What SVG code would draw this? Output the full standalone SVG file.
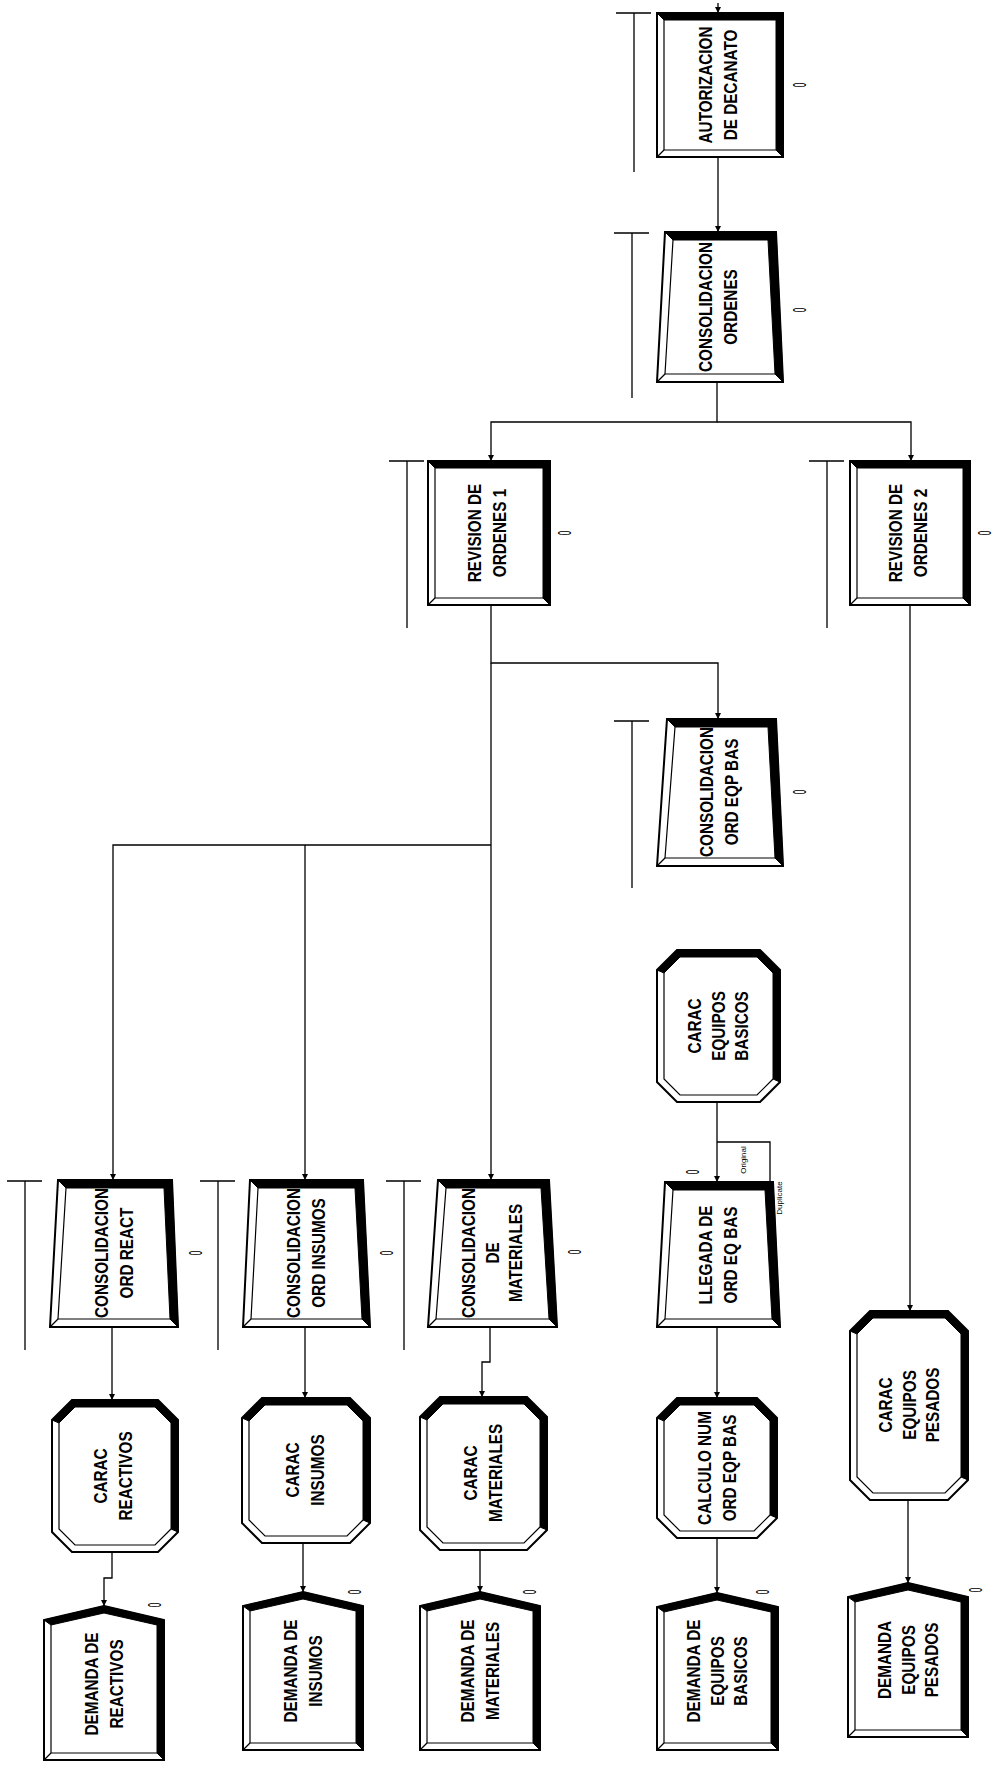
<svg xmlns="http://www.w3.org/2000/svg" width="995" height="1766" viewBox="0 0 995 1766">
<style>
.conn{fill:none;stroke:#000;stroke-width:1.3}
.q{fill:none;stroke:#000;stroke-width:1.3}
.outer{fill:#fff;stroke:#000;stroke-width:2}
.band{fill:#000;stroke:#000;stroke-width:1}
.inner{fill:none;stroke:#000;stroke-width:1.2}
.lbl{font-family:"Liberation Sans",Arial,sans-serif;font-size:18px;font-weight:bold;text-anchor:middle;fill:#000}
.zero{font-family:"Liberation Sans",Arial,sans-serif;font-size:18px;text-anchor:middle;fill:#000}
.small{font-family:"Liberation Sans",Arial,sans-serif;font-size:8px;text-anchor:middle;fill:#000}
</style>
<defs>
<marker id="arr" markerWidth="6" markerHeight="6" refX="6" refY="3" orient="auto" markerUnits="userSpaceOnUse"><path d="M0,0 L6,3 L0,6 z" fill="#000"/></marker>
</defs>
<rect width="995" height="1766" fill="#fff"/>

<g id="connectors">
<path class="conn" d="M718,3 V13" marker-end="url(#arr)"/>
<path class="conn" d="M718,157 V232" marker-end="url(#arr)"/>
<path class="conn" d="M717,382 V422 H491 V461" marker-end="url(#arr)"/>
<path class="conn" d="M717,422 H911 V461" marker-end="url(#arr)"/>
<path class="conn" d="M491,605 V663 H718 V719" marker-end="url(#arr)"/>
<path class="conn" d="M491,663 V1180" marker-end="url(#arr)"/>
<path class="conn" d="M491,845 H113 V1180" marker-end="url(#arr)"/>
<path class="conn" d="M305,845 V1180" marker-end="url(#arr)"/>
<path class="conn" d="M910,605 V1311" marker-end="url(#arr)"/>
<path class="conn" d="M717,1102 V1182" marker-end="url(#arr)"/>
<path class="conn" d="M717,1142 H770 V1182"/>
<path class="conn" d="M717,1327 V1398" marker-end="url(#arr)"/>
<path class="conn" d="M717,1538 V1593" marker-end="url(#arr)"/>
<path class="conn" d="M112,1327 V1400" marker-end="url(#arr)"/>
<path class="conn" d="M112,1552 V1578 H104 V1606" marker-end="url(#arr)"/>
<path class="conn" d="M305,1327 V1398" marker-end="url(#arr)"/>
<path class="conn" d="M303,1543 V1592" marker-end="url(#arr)"/>
<path class="conn" d="M490,1327 V1362 H482 V1397" marker-end="url(#arr)"/>
<path class="conn" d="M480,1550 V1592" marker-end="url(#arr)"/>
<path class="conn" d="M908,1500 V1583" marker-end="url(#arr)"/>
<text class="small" transform="translate(746,1160) rotate(-90)">Original</text>
<text class="small" transform="translate(782,1198) rotate(-90)">Duplicate</text>
</g>

<g id="n-autorizacion">
<path class="q" d="M616,13 H651 M634,13 V172"/>
<rect class="outer" x="657" y="13" width="126" height="144"/>
<polygon class="band" points="657,13 783,13 783,157 776,150 776,20 664,20"/>
<polyline class="inner" points="664,20 664,150 776,150"/>
<line class="inner" x1="657" y1="157" x2="664" y2="150"/>
<text class="lbl" transform="translate(718,85) rotate(-90) scale(0.85,1)"><tspan x="0" y="-6">AUTORIZACION</tspan><tspan x="0" y="19">DE DECANATO</tspan></text>
<text class="zero" transform="translate(800,85) rotate(-90) scale(0.45,1)" y="6">0</text>
</g>

<g id="n-consolidacion-ordenes">
<path class="q" d="M614,233 H649 M632,233 V398"/>
<polygon class="outer" points="665,232 776,232 783,382 657,382"/>
<polygon class="band" points="665,232 776,232 783,382 775,374 768,240 673,240"/>
<polyline class="inner" points="673,240 665,374 775,374"/>
<line class="inner" x1="657" y1="382" x2="665" y2="374"/>
<text class="lbl" transform="translate(718,307) rotate(-90) scale(0.85,1)"><tspan x="0" y="-6">CONSOLIDACION</tspan><tspan x="0" y="19">ORDENES</tspan></text>
<text class="zero" transform="translate(800,310) rotate(-90) scale(0.45,1)" y="6">0</text>
</g>

<g id="n-revision-1">
<path class="q" d="M389,461 H424 M407,461 V628"/>
<rect class="outer" x="428" y="461" width="122" height="144"/>
<polygon class="band" points="428,461 550,461 550,605 543,598 543,468 435,468"/>
<polyline class="inner" points="435,468 435,598 543,598"/>
<line class="inner" x1="428" y1="605" x2="435" y2="598"/>
<text class="lbl" transform="translate(487,533) rotate(-90) scale(0.85,1)"><tspan x="0" y="-6">REVISION DE</tspan><tspan x="0" y="19">ORDENES 1</tspan></text>
<text class="zero" transform="translate(565,533) rotate(-90) scale(0.45,1)" y="6">0</text>
</g>

<g id="n-revision-2">
<path class="q" d="M809,461 H844 M827,461 V628"/>
<rect class="outer" x="850" y="461" width="120" height="144"/>
<polygon class="band" points="850,461 970,461 970,605 963,598 963,468 857,468"/>
<polyline class="inner" points="857,468 857,598 963,598"/>
<line class="inner" x1="850" y1="605" x2="857" y2="598"/>
<text class="lbl" transform="translate(908,533) rotate(-90) scale(0.85,1)"><tspan x="0" y="-6">REVISION DE</tspan><tspan x="0" y="19">ORDENES 2</tspan></text>
<text class="zero" transform="translate(985,533) rotate(-90) scale(0.45,1)" y="6">0</text>
</g>

<g id="n-consolidacion-eqp-bas">
<path class="q" d="M614,721 H649 M632,721 V888"/>
<polygon class="outer" points="667,719 776,719 783,866 657,866"/>
<polygon class="band" points="667,719 776,719 783,866 775,858 768,727 675,727"/>
<polyline class="inner" points="675,727 665,858 775,858"/>
<line class="inner" x1="657" y1="866" x2="665" y2="858"/>
<text class="lbl" transform="translate(719,792) rotate(-90) scale(0.85,1)"><tspan x="0" y="-6">CONSOLIDACION</tspan><tspan x="0" y="19">ORD EQP BAS</tspan></text>
<text class="zero" transform="translate(800,792) rotate(-90) scale(0.45,1)" y="6">0</text>
</g>

<g id="n-carac-eq-basicos">
<polygon class="outer" points="677,950 760,950 780,970 780,1082 760,1102 677,1102 657,1082 657,970"/>
<polygon class="band" points="657,970 677,950 760,950 780,970 780,1082 773,1079 773,973 757,957 680,957 664,973"/>
<polyline class="inner" points="664,973 664,1079 680,1095 757,1095 773,1079"/>
<text class="lbl" transform="translate(718,1026) rotate(-90) scale(0.85,1)"><tspan x="0" y="-17.5">CARAC</tspan><tspan x="0" y="6.5">EQUIPOS</tspan><tspan x="0" y="30.5">BASICOS</tspan></text>
</g>

<g id="n-llegada">
<polygon class="outer" points="665,1182 773,1182 780,1327 657,1327"/>
<polygon class="band" points="665,1182 773,1182 780,1327 772,1319 765,1190 673,1190"/>
<polyline class="inner" points="673,1190 665,1319 772,1319"/>
<line class="inner" x1="657" y1="1327" x2="665" y2="1319"/>
<text class="lbl" transform="translate(718,1255) rotate(-90) scale(0.85,1)"><tspan x="0" y="-6">LLEGADA DE</tspan><tspan x="0" y="19">ORD EQ BAS</tspan></text>
<text class="zero" transform="translate(693,1172) rotate(-90) scale(0.45,1)" y="6">0</text>
</g>

<g id="n-calculo-num">
<polygon class="outer" points="677,1398 757,1398 777,1418 777,1518 757,1538 677,1538 657,1518 657,1418"/>
<polygon class="band" points="657,1418 677,1398 757,1398 777,1418 777,1518 770,1515 770,1421 754,1405 680,1405 664,1421"/>
<polyline class="inner" points="664,1421 664,1515 680,1531 754,1531 770,1515"/>
<text class="lbl" transform="translate(717,1468) rotate(-90) scale(0.85,1)"><tspan x="0" y="-6">CALCULO NUM</tspan><tspan x="0" y="19">ORD EQP BAS</tspan></text>
</g>

<g id="n-demanda-eq-basicos">
<polygon class="outer" points="717,1593 778,1607 778,1750 657,1750 657,1607"/>
<polygon class="band" points="657,1607 717,1593 778,1607 778,1750 771,1743 771,1612 717,1600 664,1612"/>
<polyline class="inner" points="664,1612 664,1743 771,1743"/>
<line class="inner" x1="657" y1="1750" x2="664" y2="1743"/>
<text class="lbl" transform="translate(717,1671) rotate(-90) scale(0.85,1)"><tspan x="0" y="-17.5">DEMANDA DE</tspan><tspan x="0" y="6.5">EQUIPOS</tspan><tspan x="0" y="30.5">BASICOS</tspan></text>
<text class="zero" transform="translate(763,1592) rotate(-90) scale(0.45,1)" y="6">0</text>
</g>

<g id="n-consolidacion-react">
<path class="q" d="M7,1181 H42 M25,1181 V1350"/>
<polygon class="outer" points="58,1180 172,1180 178,1327 50,1327"/>
<polygon class="band" points="58,1180 172,1180 178,1327 170,1319 164,1188 66,1188"/>
<polyline class="inner" points="66,1188 58,1319 170,1319"/>
<line class="inner" x1="50" y1="1327" x2="58" y2="1319"/>
<text class="lbl" transform="translate(114,1253) rotate(-90) scale(0.85,1)"><tspan x="0" y="-6">CONSOLIDACION</tspan><tspan x="0" y="19">ORD REACT</tspan></text>
<text class="zero" transform="translate(196,1253) rotate(-90) scale(0.45,1)" y="6">0</text>
</g>

<g id="n-carac-reactivos">
<polygon class="outer" points="72,1400 158,1400 178,1420 178,1532 158,1552 72,1552 52,1532 52,1420"/>
<polygon class="band" points="52,1420 72,1400 158,1400 178,1420 178,1532 171,1529 171,1423 155,1407 75,1407 59,1423"/>
<polyline class="inner" points="59,1423 59,1529 75,1545 155,1545 171,1529"/>
<text class="lbl" transform="translate(113,1476) rotate(-90) scale(0.85,1)"><tspan x="0" y="-6">CARAC</tspan><tspan x="0" y="19">REACTIVOS</tspan></text>
</g>

<g id="n-demanda-reactivos">
<polygon class="outer" points="104,1606 164,1620 164,1760 44,1760 44,1620"/>
<polygon class="band" points="44,1620 104,1606 164,1620 164,1760 157,1753 157,1625 104,1613 51,1625"/>
<polyline class="inner" points="51,1625 51,1753 157,1753"/>
<line class="inner" x1="44" y1="1760" x2="51" y2="1753"/>
<text class="lbl" transform="translate(104,1684) rotate(-90) scale(0.85,1)"><tspan x="0" y="-6">DEMANDA DE</tspan><tspan x="0" y="19">REACTIVOS</tspan></text>
<text class="zero" transform="translate(155,1605) rotate(-90) scale(0.45,1)" y="6">0</text>
</g>

<g id="n-consolidacion-insumos">
<path class="q" d="M200,1181 H235 M218,1181 V1350"/>
<polygon class="outer" points="250,1180 363,1180 370,1327 243,1327"/>
<polygon class="band" points="250,1180 363,1180 370,1327 362,1319 355,1188 258,1188"/>
<polyline class="inner" points="258,1188 251,1319 362,1319"/>
<line class="inner" x1="243" y1="1327" x2="251" y2="1319"/>
<text class="lbl" transform="translate(306,1253) rotate(-90) scale(0.85,1)"><tspan x="0" y="-6">CONSOLIDACION</tspan><tspan x="0" y="19">ORD INSUMOS</tspan></text>
<text class="zero" transform="translate(387,1253) rotate(-90) scale(0.45,1)" y="6">0</text>
</g>

<g id="n-carac-insumos">
<polygon class="outer" points="262,1398 350,1398 370,1418 370,1523 350,1543 262,1543 242,1523 242,1418"/>
<polygon class="band" points="242,1418 262,1398 350,1398 370,1418 370,1523 363,1520 363,1421 347,1405 265,1405 249,1421"/>
<polyline class="inner" points="249,1421 249,1520 265,1536 347,1536 363,1520"/>
<text class="lbl" transform="translate(305,1470) rotate(-90) scale(0.85,1)"><tspan x="0" y="-6">CARAC</tspan><tspan x="0" y="19">INSUMOS</tspan></text>
</g>

<g id="n-demanda-insumos">
<polygon class="outer" points="303,1592 363,1606 363,1750 243,1750 243,1606"/>
<polygon class="band" points="243,1606 303,1592 363,1606 363,1750 356,1743 356,1611 303,1599 250,1611"/>
<polyline class="inner" points="250,1611 250,1743 356,1743"/>
<line class="inner" x1="243" y1="1750" x2="250" y2="1743"/>
<text class="lbl" transform="translate(303,1671) rotate(-90) scale(0.85,1)"><tspan x="0" y="-6">DEMANDA DE</tspan><tspan x="0" y="19">INSUMOS</tspan></text>
<text class="zero" transform="translate(355,1592) rotate(-90) scale(0.45,1)" y="6">0</text>
</g>

<g id="n-consolidacion-materiales">
<path class="q" d="M386,1181 H421 M404,1181 V1350"/>
<polygon class="outer" points="438,1180 549,1180 557,1327 428,1327"/>
<polygon class="band" points="438,1180 549,1180 557,1327 549,1319 541,1188 446,1188"/>
<polyline class="inner" points="446,1188 436,1319 549,1319"/>
<line class="inner" x1="428" y1="1327" x2="436" y2="1319"/>
<text class="lbl" transform="translate(492,1253) rotate(-90) scale(0.85,1)"><tspan x="0" y="-17.5">CONSOLIDACION</tspan><tspan x="0" y="6.5">DE</tspan><tspan x="0" y="30.5">MATERIALES</tspan></text>
<text class="zero" transform="translate(575,1252) rotate(-90) scale(0.45,1)" y="6">0</text>
</g>

<g id="n-carac-materiales">
<polygon class="outer" points="440,1397 527,1397 547,1417 547,1530 527,1550 440,1550 420,1530 420,1417"/>
<polygon class="band" points="420,1417 440,1397 527,1397 547,1417 547,1530 540,1527 540,1420 524,1404 443,1404 427,1420"/>
<polyline class="inner" points="427,1420 427,1527 443,1543 524,1543 540,1527"/>
<text class="lbl" transform="translate(483,1473) rotate(-90) scale(0.85,1)"><tspan x="0" y="-6">CARAC</tspan><tspan x="0" y="19">MATERIALES</tspan></text>
</g>

<g id="n-demanda-materiales">
<polygon class="outer" points="480,1592 540,1606 540,1750 420,1750 420,1606"/>
<polygon class="band" points="420,1606 480,1592 540,1606 540,1750 533,1743 533,1611 480,1599 427,1611"/>
<polyline class="inner" points="427,1611 427,1743 533,1743"/>
<line class="inner" x1="420" y1="1750" x2="427" y2="1743"/>
<text class="lbl" transform="translate(480,1671) rotate(-90) scale(0.85,1)"><tspan x="0" y="-6">DEMANDA DE</tspan><tspan x="0" y="19">MATERIALES</tspan></text>
<text class="zero" transform="translate(530,1592) rotate(-90) scale(0.45,1)" y="6">0</text>
</g>

<g id="n-carac-eq-pesados">
<polygon class="outer" points="870,1311 948,1311 968,1331 968,1480 948,1500 870,1500 850,1480 850,1331"/>
<polygon class="band" points="850,1331 870,1311 948,1311 968,1331 968,1480 961,1477 961,1334 945,1318 873,1318 857,1334"/>
<polyline class="inner" points="857,1334 857,1477 873,1493 945,1493 961,1477"/>
<text class="lbl" transform="translate(909,1405) rotate(-90) scale(0.85,1)"><tspan x="0" y="-17.5">CARAC</tspan><tspan x="0" y="6.5">EQUIPOS</tspan><tspan x="0" y="30.5">PESADOS</tspan></text>
</g>

<g id="n-demanda-eq-pesados">
<polygon class="outer" points="908,1583 968,1597 968,1737 848,1737 848,1597"/>
<polygon class="band" points="848,1597 908,1583 968,1597 968,1737 961,1730 961,1602 908,1590 855,1602"/>
<polyline class="inner" points="855,1602 855,1730 961,1730"/>
<line class="inner" x1="848" y1="1737" x2="855" y2="1730"/>
<text class="lbl" transform="translate(908,1660) rotate(-90) scale(0.85,1)"><tspan x="0" y="-17.5">DEMANDA</tspan><tspan x="0" y="6.5">EQUIPOS</tspan><tspan x="0" y="30.5">PESADOS</tspan></text>
<text class="zero" transform="translate(976,1590) rotate(-90) scale(0.45,1)" y="6">0</text>
</g>
</svg>
